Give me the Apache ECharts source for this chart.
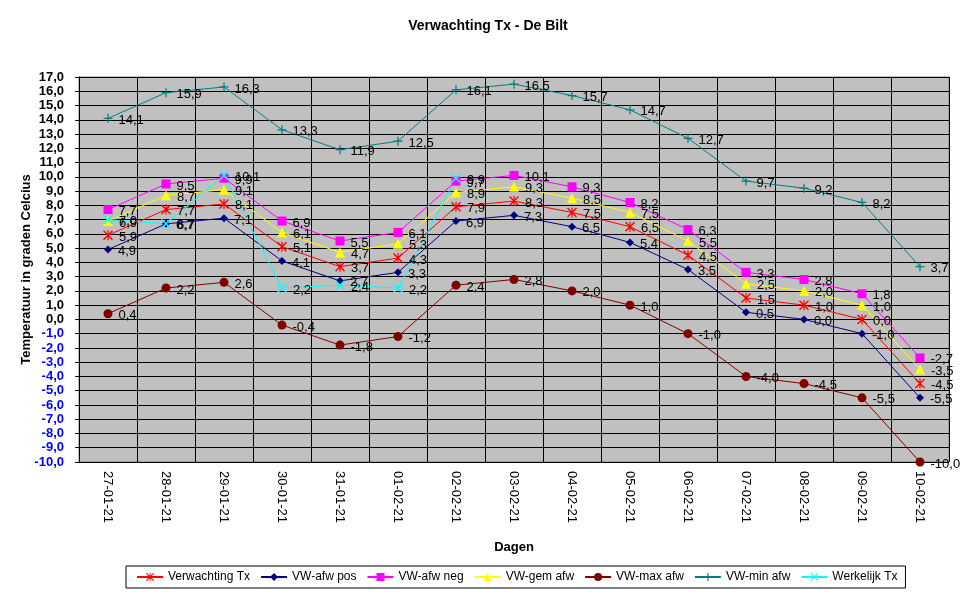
<!DOCTYPE html>
<html>
<head>
<meta charset="utf-8">
<script src="https://cdn.jsdelivr.net/npm/echarts@6/dist/echarts.min.js"></script>
<style>
	html, body { margin: 0; padding: 0; background: #fff; }
	#chart { width: 976px; height: 599px; }
</style>
</head>
<body>
<div id="chart"></div>
<script>
// 数据
var dagen = ['27-01-21', '28-01-21', '29-01-21', '30-01-21', '31-01-21', '01-02-21', '02-02-21', '03-02-21',
	'04-02-21', '05-02-21', '06-02-21', '07-02-21', '08-02-21', '09-02-21', '10-02-21'];
var verwachtingTx = [5.9, 7.7, 8.1, 5.1, 3.7, 4.3, 7.9, 8.3, 7.5, 6.5, 4.5, 1.5, 1.0, 0.0, -4.5];
var afwPos = [4.9, 6.7, 7.1, 4.1, 2.7, 3.3, 6.9, 7.3, 6.5, 5.4, 3.5, 0.5, 0.0, -1.0, -5.5];
var afwNeg = [7.7, 9.5, 9.9, 6.9, 5.5, 6.1, 9.7, 10.1, 9.3, 8.2, 6.3, 3.3, 2.8, 1.8, -2.7];
var gemAfw = [6.9, 8.7, 9.1, 6.1, 4.7, 5.3, 8.9, 9.3, 8.5, 7.5, 5.5, 2.5, 2.0, 1.0, -3.5];
var maxAfw = [0.4, 2.2, 2.6, -0.4, -1.8, -1.2, 2.4, 2.8, 2.0, 1.0, -1.0, -4.0, -4.5, -5.5, -10.0];
var minAfw = [14.1, 15.9, 16.3, 13.3, 11.9, 12.5, 16.1, 16.5, 15.7, 14.7, 12.7, 9.7, 9.2, 8.2, 3.7];
var werkelijkTx = [7.0, 6.7, 10.1, 2.2, 2.4, 2.2, 9.9, null, null, null, null, null, null, null, null];

var yMin = -10, yMax = 17, yStep = 1;

var FONT = 'Arial, "Liberation Sans", sans-serif';

// 标记形状
var SYM_PLUS = 'path://M4.3,0H5.7V4.3H10V5.7H5.7V10H4.3V5.7H0V4.3H4.3Z';
var SYM_X = 'path://M0,1L1,0L5,4L9,0L10,1L6,5L10,9L9,10L5,6L1,10L0,9L4,5Z';
var SYM_STAR = 'path://M0,1L1,0L5,4L9,0L10,1L6,5L10,9L9,10L5,6L1,10L0,9L4,5Z M4.4,0H5.6V10H4.4Z';

// 逗号小数
function fmt(v) {
	return (+v).toFixed(1).replace('.', ',');
}

function makeSeries(name, data, color, symbol, size) {
	return {
		name: name,
		type: 'line',
		data: data,
		symbol: symbol,
		symbolSize: size,
		showAllSymbol: true,
		connectNulls: false,
		animation: false,
		lineStyle: { color: color, width: 1 },
		itemStyle: { color: color },
		label: {
			show: true,
			position: 'right',
			distance: 6,
			offset: [0, 2],
			color: '#000',
			fontSize: 13,
			fontFamily: FONT,
			formatter: function(p) { return fmt(p.value); }
		}
	};
}

var myChart = echarts.init(document.getElementById('chart'));

var option = {
	backgroundColor: '#fff',
	animation: false,
	title: {
		text: 'Verwachting Tx - De Bilt',
		left: 'center',
		top: 14,
		textStyle: { fontSize: 14, fontWeight: 'bold', color: '#000', fontFamily: FONT }
	},
	legend: {
		left: 126,
		top: 566,
		itemWidth: 26,
		itemHeight: 10,
		itemGap: 10,
		padding: [5, 8, 5, 10],
		borderColor: '#000',
		borderWidth: 1,
		textStyle: { fontSize: 12, color: '#000', fontFamily: FONT },
		data: ['Verwachting Tx', 'VW-afw pos', 'VW-afw neg', 'VW-gem afw', 'VW-max afw', 'VW-min afw', 'Werkelijk Tx']
	},
	grid: {
		left: 79,
		right: 27,
		top: 77,
		bottom: 137,
		show: true,
		backgroundColor: '#c0c0c0',
		borderColor: '#808080',
		borderWidth: 1
	},
	xAxis: {
		type: 'category',
		data: dagen,
		boundaryGap: true,
		name: 'Dagen',
		nameLocation: 'middle',
		nameGap: 79,
		nameMoveOverlap: false,
		nameTextStyle: { fontSize: 13, fontWeight: 'bold', color: '#000', fontFamily: FONT },
		axisLine: { lineStyle: { color: '#000', width: 1 } },
		axisTick: { show: true, length: 5, interval: 0, lineStyle: { color: '#000' } },
		axisLabel: {
			rotate: -90,
			interval: 0,
			margin: 9,
			fontSize: 13,
			color: '#000',
			fontFamily: FONT
		},
		splitLine: { show: true, interval: 0, lineStyle: { color: '#000', width: 1 } }
	},
	yAxis: {
		type: 'value',
		min: yMin,
		max: yMax,
		interval: yStep,
		name: 'Temperatuur in graden Celcius',
		nameLocation: 'middle',
		nameGap: 46,
		nameMoveOverlap: false,
		nameTextStyle: { fontSize: 13, fontWeight: 'bold', color: '#000', fontFamily: FONT },
		axisLine: { show: true, lineStyle: { color: '#000', width: 1 } },
		axisTick: { show: true, length: 4, lineStyle: { color: '#000' } },
		axisLabel: {
			margin: 15,
			fontSize: 13,
			fontWeight: 'bold',
			fontFamily: FONT,
			formatter: fmt,
			color: function(v) { return parseFloat(v) < 0 ? '#0000ff' : '#000'; }
		},
		splitLine: { show: true, lineStyle: { color: '#000', width: 1 } }
	},
	series: [
		makeSeries('Verwachting Tx', verwachtingTx, '#ff0000', SYM_STAR, 10),
		makeSeries('VW-afw pos', afwPos, '#000080', 'diamond', 8),
		makeSeries('VW-afw neg', afwNeg, '#ff00ff', 'rect', 9),
		makeSeries('VW-gem afw', gemAfw, '#ffff00', 'triangle', 10),
		makeSeries('VW-max afw', maxAfw, '#800000', 'circle', 9),
		makeSeries('VW-min afw', minAfw, '#008080', SYM_PLUS, 9),
		makeSeries('Werkelijk Tx', werkelijkTx, '#00ffff', SYM_X, 10)
	]
};

myChart.setOption(option);
</script>
</body>
</html>
